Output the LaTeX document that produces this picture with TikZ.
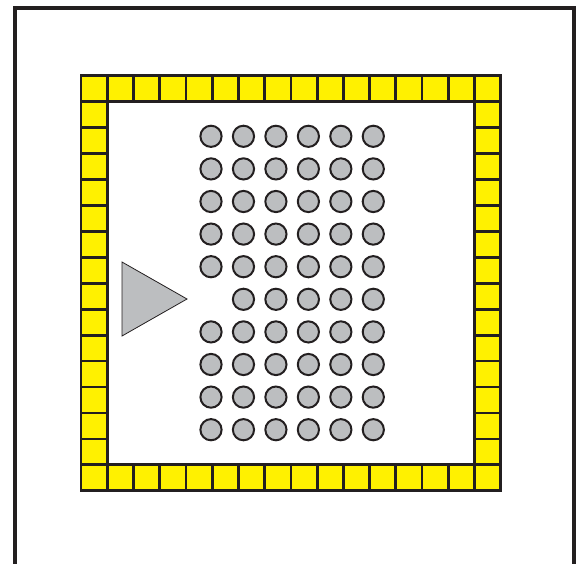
\documentclass[tikz,border=0pt]{standalone}
\definecolor{ink}{HTML}{231F20}
\definecolor{padyellow}{HTML}{FFF100}
\definecolor{ballgray}{HTML}{BCBEC0}
\tikzset{
  frameline/.style={draw=ink, line width=4pt},
  padcell/.style={draw=ink, fill=padyellow, line width=2.8pt},
  ball/.style={draw=ink, fill=ballgray, line width=2pt},
  marker/.style={draw=ink, fill=ballgray, line width=0.8pt, line join=miter}
}
\begin{document}
\begin{tikzpicture}[x=1pt,y=-1pt]
\useasboundingbox (0,0) rectangle (581,563);
% outer frame (open at the bottom)
\draw[frameline] (15,565) -- (15,8) -- (573.5,8) -- (573.5,565);
% pad ring
\pgfmathsetmacro{\xl}{81}
\pgfmathsetmacro{\xr}{500.8}
\pgfmathsetmacro{\yt}{75.7}
\pgfmathsetmacro{\yb}{490.8}
\pgfmathsetmacro{\dx}{(\xr-\xl)/16}
\pgfmathsetmacro{\dy}{(\yb-\yt)/16}
\foreach \i in {0,...,15}{
  \draw[padcell] ({\xl+\i*\dx},\yt) rectangle ({\xl+(\i+1)*\dx},{\yt+\dy});
  \draw[padcell] ({\xl+\i*\dx},{\yb-\dy}) rectangle ({\xl+(\i+1)*\dx},\yb);
  \draw[padcell] (\xl,{\yt+\i*\dy}) rectangle ({\xl+\dx},{\yt+(\i+1)*\dy});
  \draw[padcell] ({\xr-\dx},{\yt+\i*\dy}) rectangle (\xr,{\yt+(\i+1)*\dy});
}
% ball array
\foreach \r in {0,...,9}{
  \foreach \c in {0,...,5}{
    \ifnum\r=5 \ifnum\c=0 \else
      \draw[ball] ({211+\c*32.46},{136.3+\r*32.6}) circle (10.6);
    \fi\else
      \draw[ball] ({211+\c*32.46},{136.3+\r*32.6}) circle (10.6);
    \fi
  }
}
% orientation marker
\draw[marker] (122,262) -- (122,336) -- (187,299) -- cycle;
\end{tikzpicture}
\end{document}
